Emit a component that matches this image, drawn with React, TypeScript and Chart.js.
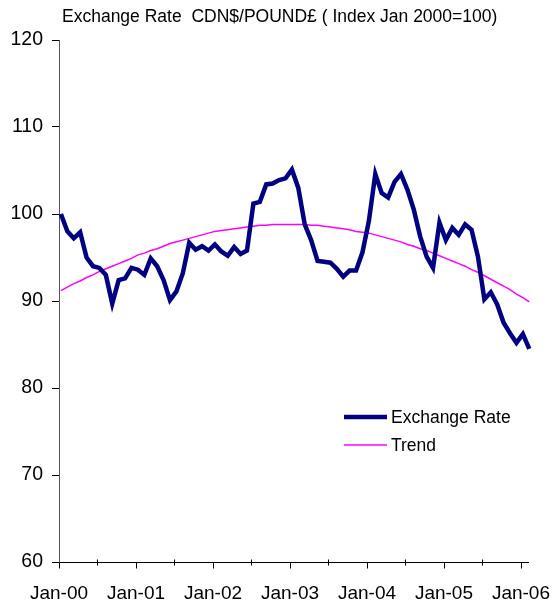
import { useEffect, useRef } from 'react';
import { Chart, registerables } from 'chart.js';

Chart.register(...registerables);

// Monthly index values, Jan 2000 (=100) through Feb 2006
const exchangeRate = [
  100.0, 98.0, 97.2, 97.9, 95.0, 94.0, 93.8, 93.0, 89.7, 92.4, 92.6, 93.8,
  93.6, 93.0, 94.9, 94.0, 92.4, 90.1, 91.1, 93.2, 96.7, 95.9, 96.3, 95.8,
  96.5, 95.7, 95.2, 96.2, 95.4, 95.8, 101.2, 101.4, 103.4, 103.5, 103.9, 104.1,
  105.1, 103.0, 98.8, 97.0, 94.6, 94.5, 94.4, 93.7, 92.8, 93.5, 93.5, 95.6,
  99.2, 104.6, 102.4, 101.9, 103.7, 104.6, 102.8, 100.5, 97.4, 95.1, 93.8, 99.0,
  97.0, 98.4, 97.6, 98.8, 98.2, 95.1, 90.2, 91.0, 89.6, 87.5, 86.3, 85.2,
  86.2, 84.5,
];

// Fitted trend line, same months
const trend = [
  91.2, 91.6, 92.0, 92.3, 92.7, 93.0, 93.4, 93.7, 94.0, 94.3, 94.6, 94.9,
  95.3, 95.5, 95.8, 96.0, 96.3, 96.6, 96.8, 97.0, 97.2, 97.4, 97.6, 97.8,
  98.0, 98.1, 98.2, 98.3, 98.4, 98.5, 98.6, 98.7, 98.7, 98.8, 98.8, 98.8,
  98.8, 98.8, 98.8, 98.7, 98.7, 98.6, 98.5, 98.4, 98.3, 98.2, 98.0, 97.9,
  97.8, 97.6, 97.4, 97.2, 97.0, 96.8, 96.5, 96.3, 96.0, 95.8, 95.5, 95.2,
  94.9, 94.6, 94.3, 94.0, 93.6, 93.3, 92.9, 92.5, 92.1, 91.7, 91.3, 90.8,
  90.4, 89.9,
];

const tickLabels = ['Jan-00', 'Jan-01', 'Jan-02', 'Jan-03', 'Jan-04', 'Jan-05', 'Jan-06'];
const seriesNames = ['Exchange Rate', 'Trend'];
const chartTitle = 'Exchange Rate  CDN$/POUND£ ( Index Jan 2000=100)';

const FONT = '"Liberation Sans", Arial, Helvetica, sans-serif';
const NAVY = '#000080';
const MAGENTA = '#FF00FF';
// observations fall part way into each month on the date axis
const MONTH_OFFSET = 0.3;

const toPoints = (values: number[]) =>
  values.map((y, i) => ({ x: i + MONTH_OFFSET, y }));

const decorations = {
  id: 'decorations',
  afterDraw(chart: any) {
    const { ctx, chartArea, scales } = chart;
    const xs = scales.x;
    ctx.save();

    // title
    ctx.fillStyle = '#000';
    ctx.font = `17.5px ${FONT}`;
    ctx.textBaseline = 'alphabetic';
    ctx.textAlign = 'left';
    ctx.fillText(chartTitle, 62, 22);

    // tick marks on the date axis: yearly ticks below, half-year ticks crossing
    ctx.strokeStyle = '#000';
    ctx.lineWidth = 1;
    const yb = Math.round(chartArea.bottom) + 0.5;
    for (let m = 0; m <= 72; m += 6) {
      const px = Math.round(xs.getPixelForValue(m)) + 0.5;
      ctx.beginPath();
      if (m % 12 === 0) {
        ctx.moveTo(px, yb);
        ctx.lineTo(px, yb + 6);
      } else {
        ctx.moveTo(px, yb - 3);
        ctx.lineTo(px, yb + 3);
      }
      ctx.stroke();
    }

    // legend
    const ds = chart.data.datasets;
    const rows = [417, 445];
    const baselines = [423, 451];
    ds.forEach((d: any, i: number) => {
      ctx.strokeStyle = d.borderColor;
      ctx.lineWidth = d.borderWidth;
      ctx.beginPath();
      ctx.moveTo(344, rows[i]);
      ctx.lineTo(387, rows[i]);
      ctx.stroke();
      ctx.fillStyle = '#000';
      ctx.font = `17.5px ${FONT}`;
      ctx.textBaseline = 'alphabetic';
      ctx.fillText(d.label, 391, baselines[i]);
    });
    ctx.restore();
  },
};

export default function App() {
  const canvasRef = useRef<HTMLCanvasElement | null>(null);

  useEffect(() => {
    if (!canvasRef.current) return;
    const chart = new Chart(canvasRef.current, {
      type: 'line',
      data: {
        datasets: [
          {
            label: seriesNames[0],
            data: toPoints(exchangeRate),
            borderColor: NAVY,
            backgroundColor: NAVY,
            borderWidth: 4.5,
            pointRadius: 0,
            tension: 0,
            clip: false,
          },
          {
            label: seriesNames[1],
            data: toPoints(trend),
            borderColor: MAGENTA,
            backgroundColor: MAGENTA,
            borderWidth: 1.5,
            pointRadius: 0,
            tension: 0,
            clip: false,
          },
        ],
      },
      options: {
        responsive: false,
        animation: false,
        events: [],
        layout: { padding: { top: 40, right: 29, left: 0, bottom: 0 } },
        plugins: {
          legend: { display: false },
          title: { display: false },
          tooltip: { enabled: false },
        },
        scales: {
          x: {
            type: 'linear',
            min: 0,
            max: 73.1,
            afterBuildTicks: (scale: any) => {
              scale.ticks = tickLabels.map((_, i) => ({ value: i * 12 }));
            },
            afterFit: (scale: any) => {
              scale.height = 43;
              scale.paddingLeft = 0;
              scale.paddingRight = 0;
            },
            ticks: {
              autoSkip: false,
              maxRotation: 0,
              padding: 20,
              color: '#000',
              font: { family: FONT, size: 19 },
              callback: (v: any) => tickLabels[Math.round(Number(v) / 12)] ?? '',
            },
            grid: { display: false, drawTicks: false },
            border: { display: true, color: '#000', width: 1 },
          },
          y: {
            min: 60,
            max: 120,
            afterFit: (scale: any) => {
              scale.width = 59;
            },
            ticks: {
              stepSize: 10,
              padding: 9,
              color: '#000',
              font: { family: FONT, size: 19.5 },
            },
            grid: {
              drawOnChartArea: false,
              drawTicks: true,
              tickLength: 7,
              color: '#000',
            },
            border: { display: true, color: '#555', width: 1 },
          },
        },
      },
      plugins: [decorations],
    });
    return () => chart.destroy();
  }, []);

  return (
    <div style={{ position: 'fixed', left: 0, top: 0, width: 557, height: 605, background: '#fff' }}>
      <canvas ref={canvasRef} width={557} height={605} />
    </div>
  );
}
